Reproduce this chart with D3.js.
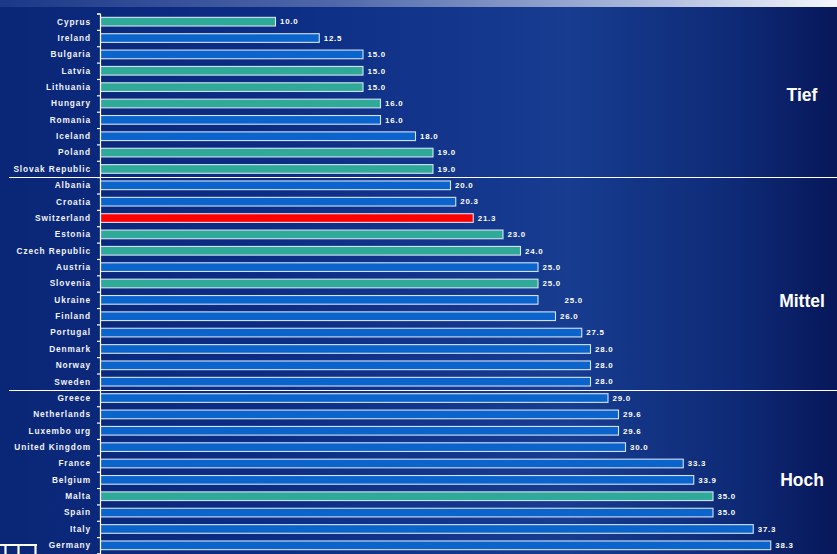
<!DOCTYPE html>
<html>
<head>
<meta charset="utf-8">
<script src="https://cdn.jsdelivr.net/npm/d3@7"></script>
<style>
  html, body { margin: 0; padding: 0; background: #0b2a7e; }
  svg { display: block; }
  text { font-family: "Liberation Sans", Arial, sans-serif; }
</style>
</head>
<body>
<script>
// Countries, top to bottom
const countries = [
  "Cyprus", "Ireland", "Bulgaria", "Latvia", "Lithuania", "Hungary", "Romania", "Iceland",
  "Poland", "Slovak Republic", "Albania", "Croatia", "Switzerland", "Estonia", "Czech Republic",
  "Austria", "Slovenia", "Ukraine", "Finland", "Portugal", "Denmark", "Norway", "Sweden",
  "Greece", "Netherlands", "Luxembo urg", "United Kingdom", "France", "Belgium", "Malta",
  "Spain", "Italy", "Germany"
];
// Value per country
const values = [
  10.0, 12.5, 15.0, 15.0, 15.0, 16.0, 16.0, 18.0,
  19.0, 19.0, 20.0, 20.3, 21.3, 23.0, 24.0,
  25.0, 25.0, 25.0, 26.0, 27.5, 28.0, 28.0, 28.0,
  29.0, 29.6, 29.6, 30.0, 33.3, 33.9, 35.0,
  35.0, 37.3, 38.3
];
// Country group: "new" = EU accession 2004, "ch" = Switzerland, "other" = rest
const groups = [
  "new", "other", "other", "new", "new", "new", "other", "other",
  "new", "new", "other", "other", "ch", "new", "new",
  "other", "new", "other", "other", "other", "other", "other", "other",
  "other", "other", "other", "other", "other", "other", "new",
  "other", "other", "other"
];
// Level bands: name, first and last country
const bandNames = ["Tief", "Mittel", "Hoch"];
const bandFirst = ["Cyprus", "Albania", "Greece"];
const bandLast = ["Slovak Republic", "Sweden", "Germany"];

const data = countries.map((c, i) => ({ country: c, value: values[i], group: groups[i] }));

const W = 837, H = 554;
const svg = d3.select("body").append("svg").attr("width", W).attr("height", H);

// Background
const defs = svg.append("defs");
const bg = defs.append("linearGradient").attr("id", "bg").attr("x1", 0).attr("x2", 1).attr("y1", 0).attr("y2", 0);
bg.append("stop").attr("offset", "0%").attr("stop-color", "#0a2676");
bg.append("stop").attr("offset", "30%").attr("stop-color", "#0c2c84");
bg.append("stop").attr("offset", "68%").attr("stop-color", "#173c90");
bg.append("stop").attr("offset", "88%").attr("stop-color", "#0e2a76");
bg.append("stop").attr("offset", "100%").attr("stop-color", "#07175a");
svg.append("rect").attr("width", W).attr("height", H).attr("fill", "url(#bg)");

const strip = defs.append("linearGradient").attr("id", "strip").attr("x1", 0).attr("x2", 1).attr("y1", 0).attr("y2", 0);
strip.append("stop").attr("offset", "0%").attr("stop-color", "#1a3888");
strip.append("stop").attr("offset", "40%").attr("stop-color", "#5068aa");
strip.append("stop").attr("offset", "80%").attr("stop-color", "#b4c0e0");
strip.append("stop").attr("offset", "100%").attr("stop-color", "#f4f6fc");
svg.append("rect").attr("x", 0).attr("y", 0).attr("width", W).attr("height", 7).attr("fill", "url(#strip)");

// Scales
const x = d3.scaleLinear().domain([0, 40]).range([100, 800]);
const y = d3.scaleBand().domain(countries).range([13.5, 553.5]).paddingInner(0.47).paddingOuter(0.235);
const color = d3.scaleOrdinal().domain(["new", "other", "ch"]).range(["#30aa98", "#0a64cc", "#ff0000"]);

// Separator lines between level bands
const step = y.step();
const rowTop = c => y(c) - y.paddingOuter() * step;
bandFirst.slice(1).forEach(c => {
  svg.append("line")
    .attr("x1", 9).attr("x2", W)
    .attr("y1", Math.round(rowTop(c)) + 0.5).attr("y2", Math.round(rowTop(c)) + 0.5)
    .attr("stroke", "#ffffff").attr("stroke-width", 1);
});

// Bars
svg.append("g").selectAll("rect").data(data).join("rect")
  .attr("x", x(0) + 0.5)
  .attr("y", d => y(d.country))
  .attr("width", d => x(d.value) - x(0))
  .attr("height", y.bandwidth())
  .attr("fill", d => color(d.group))
  .attr("stroke", "#d6e2f4")
  .attr("stroke-width", 1.1);

// Value labels
const extraDx = { "Ukraine": 22 };
svg.append("g").selectAll("text").data(data).join("text")
  .attr("x", d => x(d.value) + 5 + (extraDx[d.country] || 0))
  .attr("y", d => y(d.country) + y.bandwidth() / 2)
  .attr("dy", "0.35em")
  .attr("fill", "#ffffff")
  .attr("font-size", 7.9)
  .attr("font-weight", "bold")
  .attr("letter-spacing", 0.75)
  .text(d => d3.format(".1f")(d.value));

// Y axis with category labels
const yAxis = d3.axisLeft(d3.scaleLinear().domain([0, countries.length]).range([13.5, 553.5]))
  .ticks(countries.length).tickSize(3).tickFormat("");
const ax = svg.append("g").attr("transform", "translate(100,0)").call(yAxis);
ax.selectAll("path,line").attr("stroke", "#ffffff").attr("stroke-width", 1.2);

svg.append("g").selectAll("text").data(countries).join("text")
  .attr("x", 91)
  .attr("y", c => y(c) + y.bandwidth() / 2)
  .attr("dy", "0.35em")
  .attr("text-anchor", "end")
  .attr("fill", "#f2f4fa")
  .attr("font-size", 8.3)
  .attr("font-weight", "bold")
  .attr("letter-spacing", 0.9)
  .text(c => c);

// Level band names, placed in the lower part of each band toward the bottom
const nameShift = [0, 17, 8];
svg.append("g").selectAll("text").data(bandNames).join("text")
  .attr("x", 802)
  .attr("y", (n, i) => (rowTop(bandFirst[i]) + rowTop(bandLast[i]) + step) / 2 + nameShift[i])
  .attr("dy", "0.35em")
  .attr("text-anchor", "middle")
  .attr("fill", "#ffffff")
  .attr("font-size", 17.5)
  .attr("font-weight", "bold")
  .text(n => n);

// Logo fragment, bottom left
const logo = svg.append("g").attr("fill", "none").attr("stroke", "#ffffff").attr("stroke-width", 2.2);
logo.append("line").attr("x1", 0).attr("x2", 37).attr("y1", 545).attr("y2", 545);
[5.5, 18.5, 35.5].forEach(px => logo.append("line").attr("x1", px).attr("x2", px).attr("y1", 544).attr("y2", 556));
</script>
</body>
</html>
